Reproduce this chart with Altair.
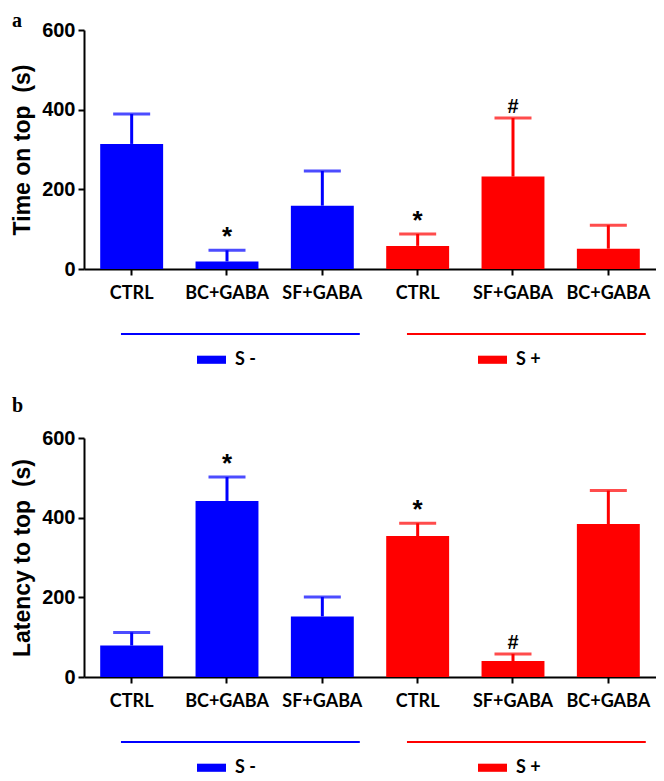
import altair as alt
import pandas as pd

# ---- data ----
categories = ["CTRL", "BC+GABA", "SF+GABA", "CTRL", "SF+GABA", "BC+GABA"]
groups = ["S -", "S -", "S -", "S +", "S +", "S +"]

time_mean = [314, 19, 159, 58, 232, 51]
time_sem = [75, 28, 87, 30, 147, 59]
time_sig = ["", "*", "", "*", "#", ""]

lat_mean = [79, 442, 152, 354, 40, 384]
lat_sem = [33, 60, 49, 32, 18, 84]
lat_sig = ["", "*", "", "*", "#", ""]

y_ticks = [0, 200, 400, 600]
group_names = ["S -", "S +"]
group_colors = ["#0000ff", "#ff0000"]

keys = [f"{i}|{c}" for i, c in enumerate(categories)]

W = 572
H = 239

color_scale = alt.Scale(domain=group_names, range=group_colors)
x_scale = alt.Scale(domain=keys, paddingInner=0.34, paddingOuter=0.17)


def panel(means, sems, sigs, ytitle, letter, letter_y, letter_baseline):
    df = pd.DataFrame({
        "key": keys,
        "group": groups,
        "mean": means,
        "top": [m + s for m, s in zip(means, sems)],
        "sig": sigs,
    })
    lines_df = pd.DataFrame({
        "group": group_names,
        "start": [keys[0], keys[3]],
        "end": [keys[2], keys[5]],
    })
    base = alt.Chart(df)
    x_enc = alt.X(
        "key:N",
        scale=x_scale,
        sort=keys,
        axis=alt.Axis(
            title=None,
            labelExpr="split(datum.label, '|')[1]",
            labelAngle=0,
            labelFont="Lato",
            labelFontSize=18,
            labelFontWeight="bold",
            labelColor="black",
            labelPadding=9,
            domainColor="black",
            domainWidth=2,
            tickColor="black",
            tickWidth=2,
            tickSize=6,
        ),
    )
    y_enc = alt.Y(
        "mean:Q",
        scale=alt.Scale(domain=[0, 600], nice=False),
        axis=alt.Axis(
            title=ytitle,
            titleFont="Liberation Sans",
            titleFontSize=23,
            titleFontWeight="bold",
            titleColor="black",
            titlePadding=7,
            values=y_ticks,
            labelFont="Liberation Sans",
            labelFontSize=20,
            labelFontWeight="bold",
            labelColor="black",
            labelPadding=3,
            domainColor="black",
            domainWidth=2,
            tickColor="black",
            tickWidth=2,
            tickSize=6,
            grid=False,
        ),
    )
    err = base.mark_rule(strokeWidth=3).encode(
        x=alt.X("key:N", scale=x_scale, sort=keys),
        y="mean:Q",
        y2="top:Q",
        color=alt.Color("group:N", scale=color_scale, legend=None),
    )
    cap = base.mark_tick(thickness=3, size=37).encode(
        x=alt.X("key:N", scale=x_scale, sort=keys),
        y="top:Q",
        color=alt.Color("group:N", scale=color_scale, legend=None),
    )
    bars = base.mark_bar(opacity=1).encode(
        x=x_enc,
        y=y_enc,
        color=alt.Color(
            "group:N",
            scale=color_scale,
            legend=alt.Legend(
                orient="none",
                legendX=113,
                legendY=H + 76,
                direction="horizontal",
                title=None,
                symbolType="M-1,-0.28L1,-0.28L1,0.28L-1,0.28Z",
                symbolSize=841,
                symbolStrokeWidth=0,
                symbolOpacity=1,
                labelFont="Lato",
                labelFontSize=18,
                labelFontWeight="bold",
                labelColor="black",
                labelOffset=9,
                columnPadding=222,
                padding=0,
            ),
        ),
    )
    sig = base.mark_text(
        font="Liberation Sans", fontWeight="bold", color="black",
        baseline="alphabetic", dy=-5,
    ).encode(
        x=alt.X("key:N", scale=x_scale, sort=keys),
        y="top:Q",
        text="sig:N",
        size=alt.condition("datum.sig == '*'", alt.value(26), alt.value(20)),
    )
    glines = alt.Chart(lines_df).mark_rule(strokeWidth=2, x2Offset=6).encode(
        x=alt.X("start:N", scale=x_scale, sort=keys, bandPosition=0.33),
        x2=alt.X2("end:N", bandPosition=1.0),
        y=alt.value(H + 65),
        color=alt.Color("group:N", scale=color_scale, legend=None),
    )
    lab = alt.Chart(pd.DataFrame({"t": [letter]})).mark_text(
        font="Liberation Serif", fontWeight="bold", fontSize=20,
        align="left", baseline=letter_baseline, color="black",
    ).encode(x=alt.value(-72), y=alt.value(letter_y), text="t:N")
    return alt.layer(bars, err, cap, sig, glines, lab).properties(width=W, height=H)


pa = panel(time_mean, time_sem, time_sig, "Time on top \u00a0(s)", "a", -19, "top")
pb = panel(lat_mean, lat_sem, lat_sig, "Latency to top \u00a0(s)", "b", -26, "alphabetic")

chart = (
    alt.vconcat(pa, pb, spacing=27)
    .resolve_scale(color="independent")
    .properties(padding={"left": 3, "top": 3, "right": 0, "bottom": 0})
    .configure_view(stroke=None)
)

chart.save("out.html", embed_options={"renderer": "svg", "actions": False})
